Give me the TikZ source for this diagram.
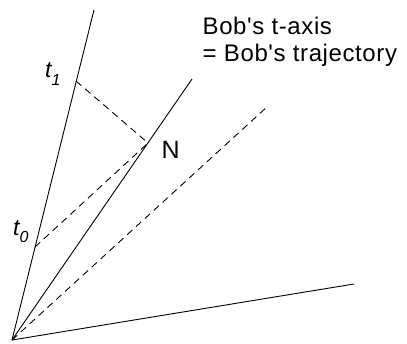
\documentclass[tikz,border=0pt]{standalone}
\usepackage{fontspec}
\setmainfont{Liberation Sans}
\newfontfamily\bobfont[LetterSpace=2.5]{Liberation Sans}
\begin{document}
\begin{tikzpicture}[x=1pt,y=-1pt,
  axis/.style={line width=0.9pt,black},
  guide/.style={line width=0.9pt,black,dash pattern=on 7pt off 5pt},
  lbl/.style={inner sep=0pt,anchor=base west}]
\useasboundingbox (0,0) rectangle (407,343);
\coordinate (O) at (12,340);
\coordinate (A) at (94,10);
\coordinate (B) at (192,79);
\coordinate (C) at (268,106);
\coordinate (D) at (354,284);
\coordinate (T1) at (76,81);
\coordinate (T0) at (35,247);
\coordinate (N) at (148,143);
\draw[axis] (O) -- (A);
\draw[axis] (O) -- (B);
\draw[axis] (O) -- (D);
\draw[guide] (O) -- (C);
\draw[guide] (T1) -- (N);
\draw[guide] (T0) -- (N);
\node[lbl] (bob1) at (202.5,34) {\bobfont\fontsize{24}{27}\selectfont Bob's t-axis};
\node[lbl] (bob2) at (202.5,61) {\bobfont\fontsize{24}{27}\selectfont = Bob's trajectory};
\node[lbl] (nl) at (161.5,158) {\fontsize{25}{25}\selectfont N};
\node[lbl] (t1l) at (45,77) {\fontsize{23}{23}\selectfont\itshape t\raisebox{-8pt}{\fontsize{16}{16}\selectfont 1}};
\node[lbl] (t0l) at (13,235) {\fontsize{23}{23}\selectfont\itshape t\raisebox{-7pt}{\fontsize{16}{16}\selectfont 0}};
\end{tikzpicture}
\end{document}
